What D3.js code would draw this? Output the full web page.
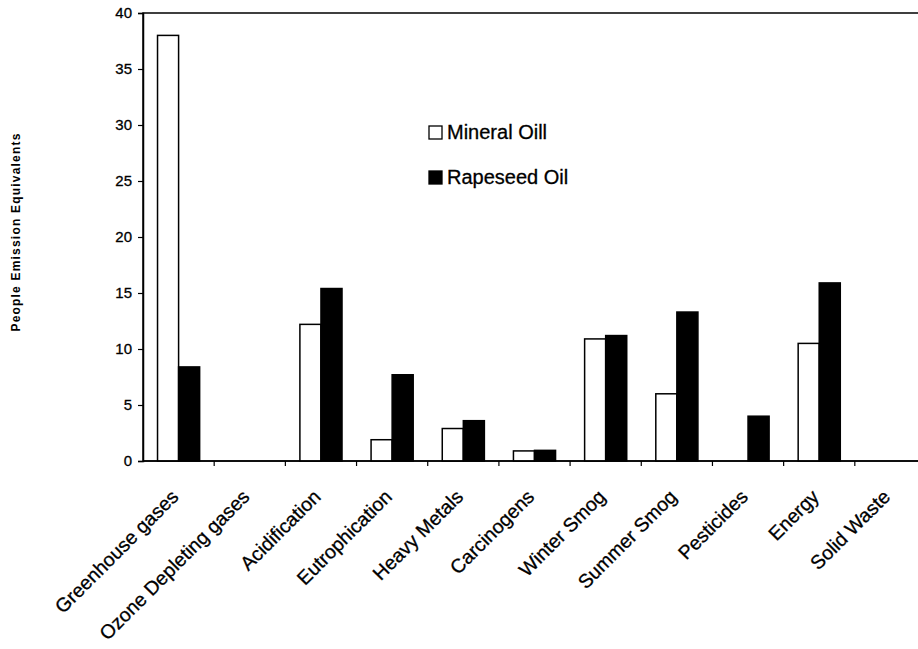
<!DOCTYPE html>
<html>
<head>
<meta charset="utf-8">
<script src="https://cdn.jsdelivr.net/npm/d3@7"></script>
<style>
  body { margin: 0; background: #fff; }
  svg { display: block; font-family: Arial, "Liberation Sans", Helvetica, sans-serif; }
</style>
</head>
<body>
<div id="chart"></div>
<script>
// Chart values
const categories = ["Greenhouse gases", "Ozone Depleting gases", "Acidification", "Eutrophication",
    "Heavy Metals", "Carcinogens", "Winter Smog", "Summer Smog", "Pesticides", "Energy", "Solid Waste"];
const seriesNames = ["Mineral Oill", "Rapeseed Oil"];
const mineralOil = [38, 0, 12.2, 1.9, 2.9, 0.9, 10.9, 6.0, 0, 10.5, 0];
const rapeseedOil = [8.4, 0, 15.4, 7.7, 3.6, 0.95, 11.2, 13.3, 4.0, 15.9, 0];
const yTicks = [0, 5, 10, 15, 20, 25, 30, 35, 40];

const width = 918, height = 649;
const plot = { left: 143, right: 926, top: 13, bottom: 461 };

const svg = d3.select("#chart")
    .append("svg")
    .attr("width", width)
    .attr("height", height);

svg.append("rect").attr("width", width).attr("height", height).attr("fill", "#fff");

// Scales
const x = d3.scaleBand()
    .domain(categories)
    .range([plot.left, plot.right])
    .padding(0);

const x1 = d3.scaleBand()
    .domain(seriesNames)
    .range([0, x.bandwidth()])
    .paddingInner(0)
    .paddingOuter(0.69);

const y = d3.scaleLinear()
    .domain([0, 40])
    .range([plot.bottom, plot.top]);

const color = d3.scaleOrdinal().domain(seriesNames).range(["#fff", "#000"]);

// Rows for the grouped bars
const rows = categories.map((c, i) => ({
    category: c,
    values: [
        { series: seriesNames[0], value: mineralOil[i] },
        { series: seriesNames[1], value: rapeseedOil[i] }
    ]
}));

// Plot frame (right edge falls outside the picture)
svg.append("rect")
    .attr("x", plot.left)
    .attr("y", plot.top)
    .attr("width", plot.right - plot.left)
    .attr("height", plot.bottom - plot.top)
    .attr("fill", "none")
    .attr("stroke", "#000")
    .attr("stroke-width", 1.5);

// Bars
const groups = svg.selectAll(".group")
    .data(rows)
    .enter().append("g")
    .attr("class", "group")
    .attr("transform", d => `translate(${x(d.category)},0)`);

groups.selectAll("rect")
    .data(d => d.values.filter(v => v.value > 0))
    .enter().append("rect")
    .attr("x", d => x1(d.series))
    .attr("y", d => y(d.value))
    .attr("width", x1.bandwidth())
    .attr("height", d => y(0) - y(d.value))
    .attr("fill", d => color(d.series))
    .attr("stroke", "#000")
    .attr("stroke-width", 1.5);

// Y axis
const yAxis = svg.append("g")
    .attr("transform", `translate(${plot.left},0)`)
    .call(d3.axisLeft(y).tickValues(yTicks).tickSize(5).tickPadding(6));
yAxis.select(".domain").attr("stroke-width", 1.5);
yAxis.selectAll(".tick line").attr("stroke-width", 1.2);
yAxis.selectAll(".tick text")
    .attr("font-size", 15)
    .attr("font-family", "Arial, 'Liberation Sans', sans-serif")
    .attr("fill", "#000")
    .attr("stroke", "#000")
    .attr("stroke-width", 0.3);

// X axis: baseline, ticks on category boundaries
svg.append("line")
    .attr("x1", plot.left).attr("x2", plot.right)
    .attr("y1", y(0)).attr("y2", y(0))
    .attr("stroke", "#000").attr("stroke-width", 1.5);

svg.selectAll(".xtick")
    .data(categories.slice(1))
    .enter().append("line")
    .attr("class", "xtick")
    .attr("x1", d => x(d)).attr("x2", d => x(d))
    .attr("y1", y(0)).attr("y2", y(0) + 5)
    .attr("stroke", "#000").attr("stroke-width", 1.2);

svg.selectAll(".xlabel")
    .data(categories)
    .enter().append("text")
    .attr("class", "xlabel")
    .attr("transform", d => `translate(${x(d) + x.bandwidth() / 2 + 1},${y(0) + 37}) rotate(-45)`)
    .attr("text-anchor", "end")
    .attr("font-size", 19.5)
    .attr("fill", "#000")
    .attr("stroke", "#000")
    .attr("stroke-width", 0.3)
    .text(d => d);

// Y axis title
svg.append("text")
    .attr("transform", `translate(20,232) rotate(-90)`)
    .attr("text-anchor", "middle")
    .attr("font-size", 12)
    .attr("font-weight", "bold")
    .attr("letter-spacing", 1.2)
    .attr("fill", "#000")
    .text("People Emission Equivalents");

// Legend
const legend = svg.selectAll(".legend")
    .data(seriesNames)
    .enter().append("g")
    .attr("class", "legend")
    .attr("transform", (d, i) => `translate(429,${126 + i * 45})`);

legend.append("rect")
    .attr("width", 13)
    .attr("height", 13)
    .attr("fill", d => color(d))
    .attr("stroke", "#000")
    .attr("stroke-width", 1.3);

legend.append("text")
    .attr("x", 18)
    .attr("y", 13)
    .attr("font-size", 20)
    .attr("fill", "#000")
    .attr("stroke", "#000")
    .attr("stroke-width", 0.3)
    .text(d => d);
</script>
</body>
</html>
